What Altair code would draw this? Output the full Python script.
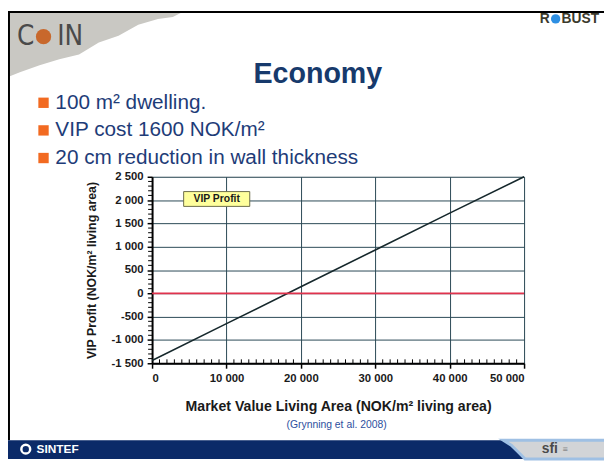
import altair as alt
import pandas as pd

# ---------------- data ----------------
market_value = [0, 10000, 20000, 30000, 40000, 50000]
vip_profit = [-1440, -650, 140, 930, 1720, 2500]
x_ticks = [0, 10000, 20000, 30000, 40000, 50000]
y_ticks = [-1500, -1000, -500, 0, 500, 1000, 1500, 2000, 2500]
x_minor = [v for v in range(0, 50001, 1000) if v % 10000 != 0]
y_minor = [v for v in range(-1500, 2501, 100) if v % 500 != 0]
zero_line = [0]
bullets = ["100 m² dwelling.", "VIP cost 1600 NOK/m²", "20 cm reduction in wall thickness"]
slide_title = "Economy"
x_title = "Market Value Living Area (NOK/m² living area)"
y_title = "VIP Profit (NOK/m² living area)"
legend_label = "VIP Profit"
source_note = "(Grynning et al. 2008)"

# ---------------- layout helpers (page px -> plot px) ----------------
OX, OY = 154, 176
W, H = 377, 189
FONT = "Liberation Sans"


def px(x):
    return x - OX


def py(y):
    return y - OY


one = pd.DataFrame({"k": [0]})


def deco_text(text, x, y, **kw):
    return alt.Chart(one).mark_text(text=text, **kw).encode(
        x=alt.value(px(x)), y=alt.value(py(y)))


def deco_rect(x1, y1, x2, y2, color, **kw):
    return alt.Chart(one).mark_rect(color=color, **kw).encode(
        x=alt.value(px(x1)), x2=alt.value(px(x2)),
        y=alt.value(py(y1)), y2=alt.value(py(y2)))


def deco_rule(x1, y1, x2, y2, color, width):
    return alt.Chart(one).mark_rule(color=color, strokeWidth=width).encode(
        x=alt.value(px(x1)), x2=alt.value(px(x2)),
        y=alt.value(py(y1)), y2=alt.value(py(y2)))


def deco_shape(path, cx, cy, side, color, **kw):
    return alt.Chart(one).mark_point(
        shape=path, size=side * side, filled=True, color=color, opacity=1, **kw
    ).encode(x=alt.value(px(cx)), y=alt.value(py(cy)))


label_expr = "replace(replace(format(datum.value, ','), ',', ' '), '\u2212', '-')"

xscale = alt.Scale(domain=[0, 50000], nice=False)
yscale = alt.Scale(domain=[-1500, 2500], nice=False)

line_df = pd.DataFrame({"x": market_value, "y": vip_profit})

common_axis = dict(grid=True, gridColor="#2a4854", gridWidth=1, gridOpacity=1,
                   domainColor="black", domainWidth=2,
                   tickColor="black", tickWidth=1.5, tickSize=5, tickCount=40,
                   labelFont=FONT, labelFontSize=11.5, labelFontWeight="bold",
                   labelColor="#1a1a1a", labelOverlap=False,
                   labelExpr=label_expr,
                   titleFont=FONT, titleFontWeight="bold", titleColor="#1a1a1a")

line = alt.Chart(line_df).mark_line(color="#15272b", strokeWidth=1.6).encode(
    x=alt.X("x:Q", scale=xscale, title=x_title,
            axis=alt.Axis(values=x_ticks, labelPadding=4,
                          titleFontSize=14.3, titleY=44, titleBaseline="middle",
                          **common_axis)),
    y=alt.Y("y:Q", scale=yscale, title=y_title,
            axis=alt.Axis(values=y_ticks, labelPadding=4,
                          titleFontSize=12.5, titleX=-61, titleY=H / 2,
                          titleAngle=270, titleAlign="center", titleBaseline="middle",
                          **common_axis)),
)

zero = alt.Chart(pd.DataFrame({"y": zero_line})).mark_rule(
    color="#e0334d", strokeWidth=1.6).encode(y=alt.Y("y:Q", scale=yscale))

xminor = alt.Chart(pd.DataFrame({"x": x_minor})).mark_rule(
    color="black", strokeWidth=1).encode(
    x=alt.X("x:Q", scale=xscale), y=alt.value(H), y2=alt.value(H - 4))

yminor = alt.Chart(pd.DataFrame({"y": y_minor})).mark_rule(
    color="black", strokeWidth=1).encode(
    y=alt.Y("y:Q", scale=yscale), x=alt.value(0), x2=alt.value(-4))

legend_box = alt.Chart(one).mark_rect(
    color="#ffff9c", stroke="#6b6b4a", strokeWidth=1).encode(
    x=alt.value(px(186)), x2=alt.value(px(253)),
    y=alt.value(py(191)), y2=alt.value(py(206)))
legend_txt = deco_text(legend_label, 219.5, 198.5, font=FONT, fontSize=10.5,
                       fontWeight="bold", color="#1a1a1a",
                       align="center", baseline="middle")

# ---------------- slide decorations ----------------
coin_path = ("M-1,-1 L1,-1 L0.889,-0.944 L0.722,-0.922 L0.5,-0.856 L0.278,-0.733 "
             "L0.056,-0.656 L-0.167,-0.522 L-0.389,-0.467 L-0.611,-0.4 "
             "L-0.833,-0.322 L-1,-0.256 Z")
footer_path = ("M-0.945,-0.173 L1,-0.173 L1,0.173 L-0.545,0.173 "
               "L-0.673,0.045 L-0.8,-0.082 Z")

decos = [
    deco_shape(coin_path, 95, 99, 180, "#c9c8c3"),
    deco_text("C", 26, 34, font="DejaVu Sans Condensed", fontSize=28,
              fontWeight="normal", color="#4a4a4a", align="center", baseline="middle"),
    deco_text("IN", 71, 34, font="DejaVu Sans Condensed", fontSize=28,
              fontWeight="normal", color="#4a4a4a", align="center", baseline="middle"),
    alt.Chart(one).mark_point(shape="circle", size=240, filled=True,
                              color="#c8682c", opacity=1).encode(
        x=alt.value(px(44)), y=alt.value(py(34))),
    deco_rule(8, 9, 612, 9, "black", 2),
    deco_rule(9, 8, 9, 443, "black", 2),
    deco_text("R", 552, 16, font=FONT, fontSize=14, fontWeight="bold",
              color="#3b3a2c", align="center", baseline="middle"),
    alt.Chart(one).mark_point(shape="circle", size=90, filled=True,
                              color="#2d8fe3", opacity=1).encode(
        x=alt.value(px(563)), y=alt.value(py(16))),
    deco_text("BUST", 569, 16, font=FONT, fontSize=14, fontWeight="bold",
              color="#3b3a2c", align="left", baseline="middle"),
    deco_text(slide_title, 322, 72, font=FONT, fontSize=29, fontWeight="bold",
              color="#173a6c", align="center", baseline="middle"),
    deco_text(source_note, 341, 428, font=FONT, fontSize=10.5,
              color="#2d4f9e", align="center", baseline="middle"),
    deco_rect(8, 443, 612, 462, "#0b2a68"),
    deco_shape(footer_path, 562, 452.5, 110, "#d2d4d7",
               stroke="#9fc0e4", strokeWidth=3),
    deco_text("SINTEF", 37, 452, font=FONT, fontSize=12, fontWeight="bold",
              color="white", align="left", baseline="middle"),
    alt.Chart(one).mark_point(shape="circle", size=80, filled=False,
                              color="white", strokeWidth=2.5, opacity=1).encode(
        x=alt.value(px(26)), y=alt.value(py(452))),
    deco_text("sfi", 549, 452, font=FONT, fontSize=14, fontWeight="bold",
              color="#4a4a4a", align="left", baseline="middle"),
    deco_text("\u2261", 570, 452, font=FONT, fontSize=9,
              color="#8a8a8a", align="left", baseline="middle"),
]

for i, b in enumerate(bullets):
    yc = 101 + 28 * i
    decos.append(alt.Chart(one).mark_square(size=110, color="#f26a21", opacity=1).encode(
        x=alt.value(px(44)), y=alt.value(py(yc))))
    decos.append(deco_text(b, 56, yc, font=FONT, fontSize=21, color="#1e3c78",
                           align="left", baseline="middle"))

chart = alt.layer(
    line, zero, xminor, yminor, legend_box, legend_txt, *decos
).properties(
    width=W, height=H,
    autosize=alt.AutoSizeParams(type="none"),
    padding={"left": OX - 8, "top": OY - 8, "right": 604 - (OX - 8) - W,
             "bottom": 454 - (OY - 8) - H},
    background="white",
).configure_view(
    fill="#d0eaf3", stroke="black", strokeWidth=2
).configure(font=FONT)

chart.save("out.html", embed_options={"renderer": "svg", "actions": False})
